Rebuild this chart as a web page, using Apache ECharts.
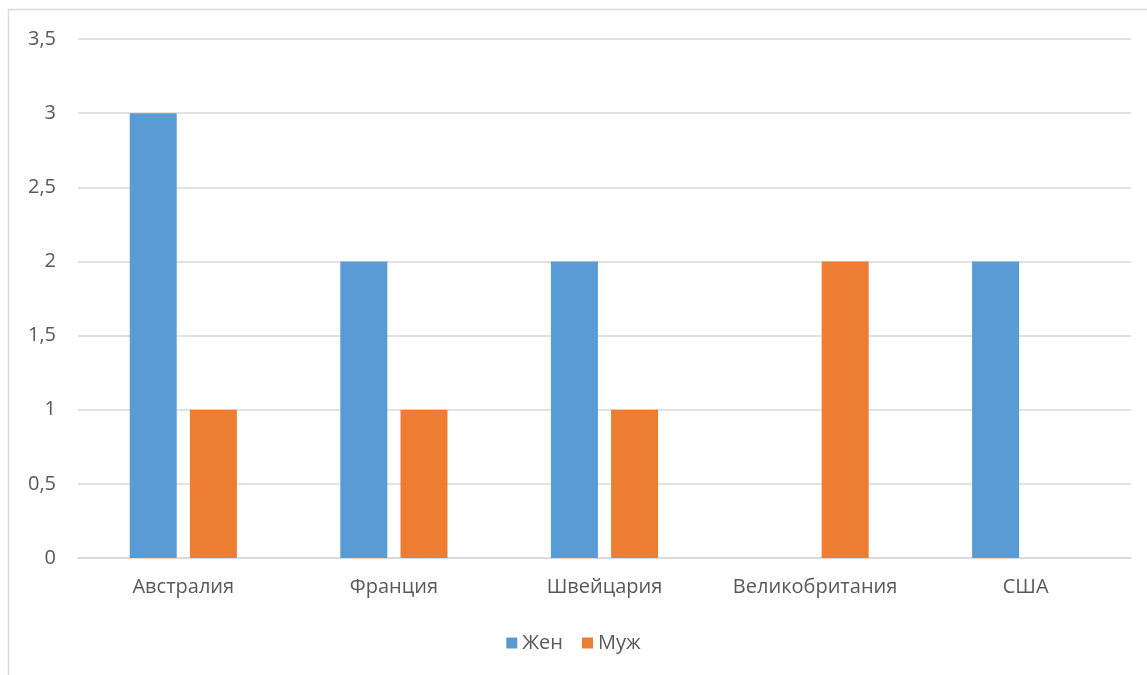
<!DOCTYPE html>
<html>
<head>
<meta charset="utf-8">
<script src="https://cdn.jsdelivr.net/npm/echarts@6/dist/echarts.min.js"></script>
<style>
  html, body { margin: 0; padding: 0; background: #fff; }
  #container { width: 1147px; height: 675px; }
</style>
</head>
<body>
<div id="container"></div>
<script>
var countries = ['Австралия', 'Франция', 'Швейцария', 'Великобритания', 'США'];
var women = [3, 2, 2, 0, 2];
var men = [1, 1, 1, 2, 0];

var chart = echarts.init(document.getElementById('container'));
var labelFont = '"Open Sans", "Noto Sans", sans-serif';

var option = {
  animation: false,
  textStyle: { fontFamily: labelFont },
  // chart frame, only left and top edges are visible
  graphic: [
    {
      type: 'rect',
      shape: { x: 8.5, y: 9.5, width: 1200, height: 700 },
      style: { fill: 'none', stroke: '#d9d9d9', lineWidth: 1.5 },
      silent: true
    }
  ],
  grid: { left: 78, right: 16, top: 39, bottom: 117 },
  legend: {
    bottom: 17,
    left: 'center',
    itemWidth: 11,
    itemHeight: 11,
    itemGap: 19,
    icon: 'rect',
    textStyle: { color: '#595959', fontSize: 20, fontFamily: labelFont },
    data: ['Жен', 'Муж']
  },
  xAxis: {
    type: 'category',
    data: countries,
    axisLine: { lineStyle: { color: '#d9d9d9', width: 1.5 } },
    axisTick: { show: false },
    axisLabel: { color: '#595959', fontSize: 20, margin: 19, interval: 0, hideOverlap: false }
  },
  yAxis: {
    type: 'value',
    min: 0,
    max: 3.5,
    interval: 0.5,
    axisLine: { show: false },
    axisTick: { show: false },
    splitLine: { lineStyle: { color: '#d9d9d9', width: 1.5 } },
    axisLabel: {
      color: '#595959',
      fontSize: 20,
      margin: 22,
      formatter: function (v) { return String(v).replace('.', ','); }
    }
  },
  series: [
    {
      name: 'Жен',
      type: 'bar',
      data: women,
      barWidth: 47,
      barGap: '28%',
      itemStyle: { color: '#5b9bd5' }
    },
    {
      name: 'Муж',
      type: 'bar',
      data: men,
      barWidth: 47,
      itemStyle: { color: '#ed7d31' }
    }
  ]
};

chart.setOption(option);
</script>
</body>
</html>
